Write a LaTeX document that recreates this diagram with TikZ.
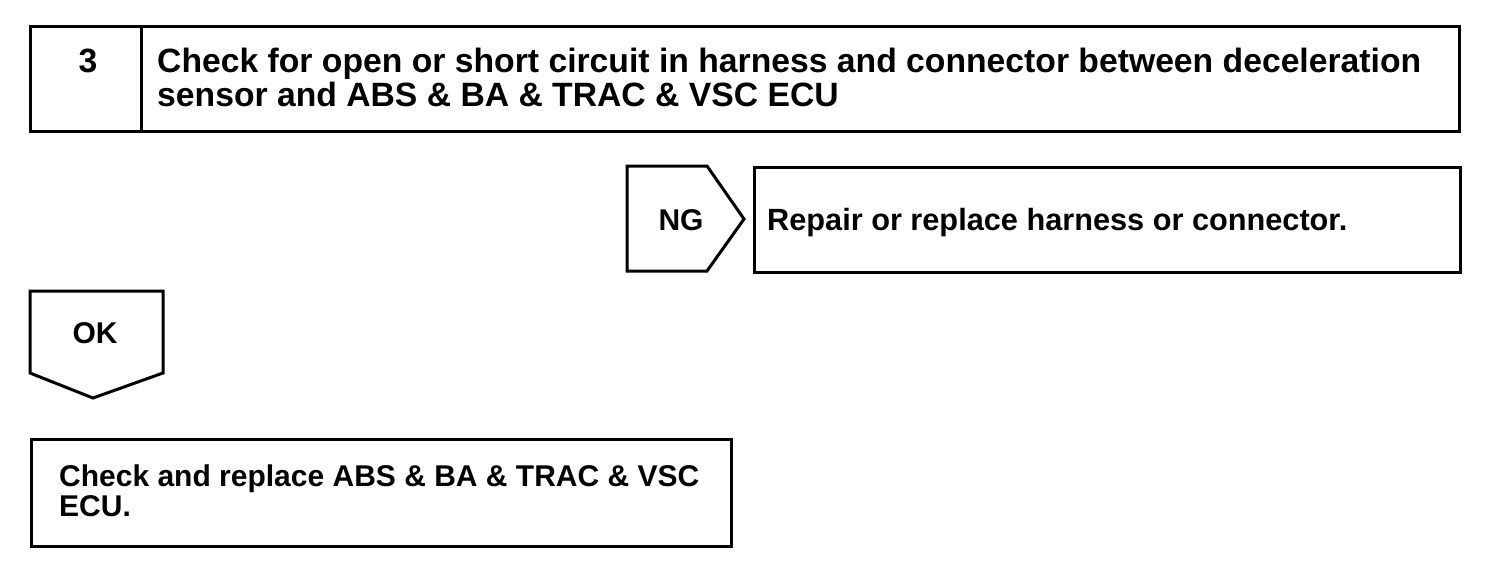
\documentclass[tikz,border=0pt]{standalone}
\usepackage{fontspec}
\setmainfont{Liberation Sans}
\begin{document}
\begin{tikzpicture}[x=1pt,y=-1pt,
  box/.style={draw,line width=3pt,rectangle,inner sep=0pt},
  txt/.style={font=\bfseries\fontsize{30}{33}\selectfont,inner sep=0pt,align=left},
  big/.style={txt,font=\bfseries\fontsize{33.7}{34}\selectfont},
  shp/.style={draw,line width=3pt,line join=miter}]
\useasboundingbox (0,0) rectangle (1504,566);
% top step box
\draw[shp] (30,26) rectangle (1459,131);
\draw[shp] (141,26) -- (141,131);
\node[big,anchor=base] (num) at (88,72) {3};
\node[big,anchor=north west] (title) at (157,48) {Check for open or short circuit in harness and connector between deceleration\\sensor and ABS \& BA \& TRAC \& VSC ECU};
% NG
\draw[shp] (627,166) -- (707,166) -- (744,219) -- (707,271) -- (627,271) -- cycle;
\node[txt,anchor=base] (ng) at (681,230) {NG};
\node[box,anchor=north west,minimum width=706,minimum height=105] (repbox) at (753,166) {};
\node[txt,font=\bfseries\fontsize{30.7}{33}\selectfont,anchor=base west] (rep) at (767,230) {Repair or replace harness or connector.};
% OK
\draw[shp] (30,291) -- (163,291) -- (163,373) -- (93,398) -- (30,373) -- cycle;
\node[txt,anchor=base] (ok) at (95,343) {OK};
% bottom box
\node[box,anchor=north west,minimum width=700,minimum height=107] (ecubox) at (30,438) {};
\node[txt,font=\bfseries\fontsize{30}{30}\selectfont,anchor=north west] (ecu) at (59,465) {Check and replace ABS \& BA \& TRAC \& VSC\\ECU.};
\end{tikzpicture}
\end{document}
